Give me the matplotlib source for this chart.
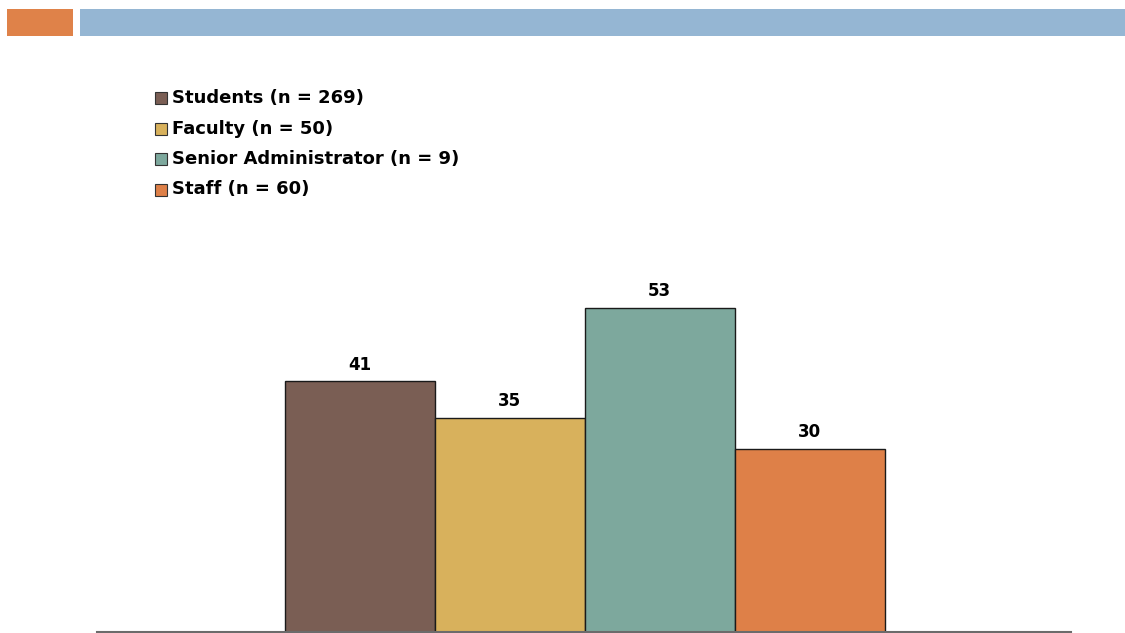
import matplotlib
matplotlib.use('Agg')
import matplotlib.pyplot as plt
from matplotlib.patches import Rectangle

groups = ['Students (n = 269)', 'Faculty (n = 50)', 'Senior Administrator (n = 9)', 'Staff (n = 60)']
values = [41, 35, 53, 30]
colors = ['#7A5E54', '#D8B15C', '#7DA89D', '#DE8048']

plt.rcParams['font.family'] = ['DejaVu Sans']

W, H = 1125, 633
fig = plt.figure(figsize=(W / 100, H / 100), dpi=100)

# header strip
fig.patches.append(Rectangle((7 / W, 1 - 36 / H), 66 / W, 27 / H, transform=fig.transFigure,
                             facecolor='#DF8249', edgecolor='none'))
fig.patches.append(Rectangle((80 / W, 1 - 36 / H), 1045 / W, 27 / H, transform=fig.transFigure,
                             facecolor='#95B6D3', edgecolor='none'))

# bars
ax = fig.add_axes([97 / W, 1 / H, 974 / W, 392 / H])
x = range(len(values))
ax.bar(x, values, width=1.0, color=colors, edgecolor='#1a1a1a', linewidth=1)
for xi, v in zip(x, values):
    ax.text(xi, v + 1.3, str(v), ha='center', va='bottom', fontsize=12, fontweight='bold')
ax.set_xlim(-1.75, 4.74)
ax.set_ylim(0, 392 / 6.11)
for s in ['top', 'left', 'right']:
    ax.spines[s].set_visible(False)
ax.spines['bottom'].set_color('#6b6b6b')
ax.spines['bottom'].set_linewidth(1.5)
ax.set_xticks([])
ax.set_yticks([])
ax.patch.set_alpha(0)

# legend, drawn by hand
for i, (lab, c) in enumerate(zip(groups, colors)):
    yc = 98 + i * 30.5
    fig.patches.append(Rectangle((155 / W, 1 - (yc + 6) / H), 12 / W, 12 / H, transform=fig.transFigure,
                                 facecolor=c, edgecolor='#333333', linewidth=0.8))
    fig.text(172 / W, 1 - yc / H, lab, ha='left', va='center', fontsize=13, fontweight='bold')

fig.savefig('out.png', dpi=100)
